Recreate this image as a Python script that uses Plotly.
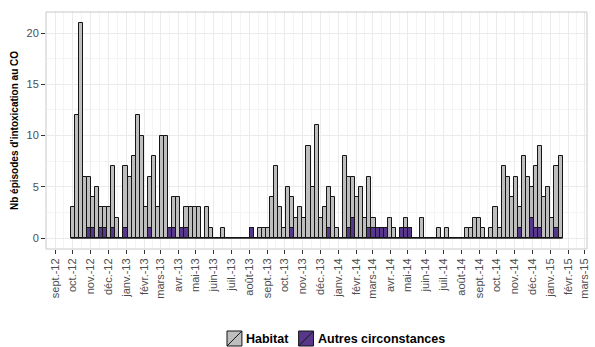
import pandas as pd
import plotly.graph_objects as go

# Weekly number of CO poisoning episodes, week starting 2012-10-01
habitat = [
    3, 12, 21, 6, 6, 4, 5, 3, 3, 3, 7, 2, 0, 7, 6, 8, 12, 10, 3, 6,
    8, 3, 10, 10, 1, 4, 4, 1, 3, 3, 3, 3, 0, 3, 1, 0, 0, 1, 0, 0,
    0, 0, 0, 0, 1, 0, 1, 1, 1, 4, 7, 3, 1, 5, 4, 2, 3, 2, 9, 5,
    11, 2, 3, 5, 4, 1, 0, 8, 6, 6, 4, 5, 2, 6, 2, 1, 1, 1, 2, 1,
    0, 1, 2, 1, 0, 0, 2, 0, 0, 0, 1, 0, 1, 0, 0, 0, 0, 1, 1, 2,
    2, 1, 0, 1, 3, 1, 7, 6, 4, 6, 3, 8, 6, 5, 7, 9, 4, 5, 2, 7,
    8,
]
autres = [
    0, 0, 0, 0, 1, 1, 0, 1, 1, 0, 1, 0, 0, 1, 0, 0, 0, 0, 0, 1,
    0, 0, 0, 0, 1, 1, 0, 1, 1, 0, 0, 0, 0, 0, 0, 0, 0, 0, 0, 0,
    0, 0, 0, 0, 1, 0, 0, 0, 0, 0, 0, 0, 0, 0, 1, 0, 0, 0, 0, 0,
    0, 0, 0, 1, 0, 0, 0, 0, 1, 2, 0, 0, 0, 1, 1, 1, 1, 1, 0, 0,
    0, 1, 1, 1, 0, 0, 0, 0, 0, 0, 0, 0, 0, 0, 0, 0, 0, 0, 0, 0,
    0, 0, 0, 0, 0, 0, 0, 0, 0, 0, 1, 0, 0, 2, 1, 1, 0, 0, 0, 1,
    0,
]
weeks = pd.date_range("2012-10-01", periods=len(habitat), freq="7D")

month_starts = pd.date_range("2012-09-01", "2015-03-01", freq="MS")
month_labels = [
    "sept.-12", "oct.-12", "nov.-12", "déc.-12",
    "janv.-13", "févr.-13", "mars-13", "avr.-13", "mai-13", "juin-13",
    "juil.-13", "août-13", "sept.-13", "oct.-13", "nov.-13", "déc.-13",
    "janv.-14", "févr.-14", "mars-14", "avr.-14", "mai-14", "juin-14",
    "juil.-14", "août-14", "sept.-14", "oct.-14", "nov.-14", "déc.-14",
    "janv.-15", "févr.-15", "mars-15",
]
month_mid = [a + (b - a) / 2 for a, b in zip(month_starts[:-1], month_starts[1:])]

series_names = ["Habitat", "Autres circonstances"]
series_colors = ["#bebebe", "#56378a"]

WEEK_MS = 7 * 24 * 3600 * 1000
HALF_WEEK = pd.Timedelta(days=3.5)

# Figure geometry (pixels)
W, H = 595, 347
ML, MR, MT, MB = 46, 5, 12, 98
PW, PH = W - ML - MR, H - MT - MB

fig = go.Figure()
for name, vals, col in zip(series_names, [habitat, autres], series_colors):
    fig.add_bar(
        x=weeks, y=vals, width=WEEK_MS, name=name, showlegend=False,
        marker=dict(color=col, line=dict(color="#151515", width=1)),
    )

# zero-height bars still leave their outline on the baseline
fig.add_shape(type="line", xref="x", yref="y",
              x0=weeks[0] - HALF_WEEK, x1=weeks[-1] + HALF_WEEK, y0=0, y1=0,
              line=dict(color="#151515", width=1), layer="above")
# panel border
fig.add_shape(type="rect", xref="paper", yref="paper", x0=0, x1=1, y0=0, y1=1,
              line=dict(color="#c8c8c8", width=1), layer="above")


def px(xp):
    return (xp - ML) / PW


def py(yp):
    return (H - MB - yp) / PH


# legend drawn as keys with a diagonal stroke
key_x = [228, 300]
text_x = [245, 317]
ky0, ky1 = 331, 346
for kx, tx, name, col in zip(key_x, text_x, series_names, series_colors):
    fig.add_shape(type="rect", xref="paper", yref="paper",
                  x0=px(kx), x1=px(kx + 15), y0=py(ky1), y1=py(ky0),
                  fillcolor=col, line=dict(color="#151515", width=1))
    fig.add_shape(type="line", xref="paper", yref="paper",
                  x0=px(kx), x1=px(kx + 15), y0=py(ky1), y1=py(ky0),
                  line=dict(color="#151515", width=1))
    fig.add_annotation(xref="paper", yref="paper", x=px(tx), y=py((ky0 + ky1) / 2),
                       text=f"<b>{name}</b>", showarrow=False, xanchor="left",
                       yanchor="middle",
                       font=dict(family="Liberation Sans, Arial", size=12.5, color="#000"))

axis_font = dict(family="Liberation Sans, Arial", size=11, color="#4d4d4d")

fig.update_layout(
    width=W, height=H,
    margin=dict(l=ML, r=MR, t=MT, b=MB),
    barmode="overlay", bargap=0,
    plot_bgcolor="white", paper_bgcolor="white",
    showlegend=False,
    font=dict(family="Liberation Sans, Arial"),
)
fig.update_xaxes(
    type="date",
    range=["2012-08-16 04:00", "2015-03-05 12:00"],
    tickmode="array", tickvals=month_starts, ticktext=month_labels,
    tickangle=-90, tickfont=axis_font,
    ticks="outside", ticklen=4, tickcolor="#333", tickwidth=1,
    showgrid=True, gridcolor="#ebebeb", gridwidth=1,
    minor=dict(tickmode="array", tickvals=month_mid, showgrid=True,
               gridcolor="#f4f4f4", gridwidth=0.5, ticks=""),
    zeroline=False, showline=False,
)
fig.update_yaxes(
    range=[-1.05, 22.05],
    tickmode="array", tickvals=[0, 5, 10, 15, 20],
    tickfont=dict(family="Liberation Sans, Arial", size=11, color="#4d4d4d"),
    ticks="outside", ticklen=4, tickcolor="#333", tickwidth=1,
    showgrid=True, gridcolor="#ebebeb", gridwidth=1,
    minor=dict(tickmode="array", tickvals=[2.5, 7.5, 12.5, 17.5], showgrid=True,
               gridcolor="#f4f4f4", gridwidth=0.5, ticks=""),
    zeroline=False, showline=False,
    title=dict(text="<b>Nb épisodes d'intoxication au CO</b>", standoff=6,
               font=dict(family="Liberation Sans, Arial", size=10, color="#000")),
)

fig.write_html("out.html")
